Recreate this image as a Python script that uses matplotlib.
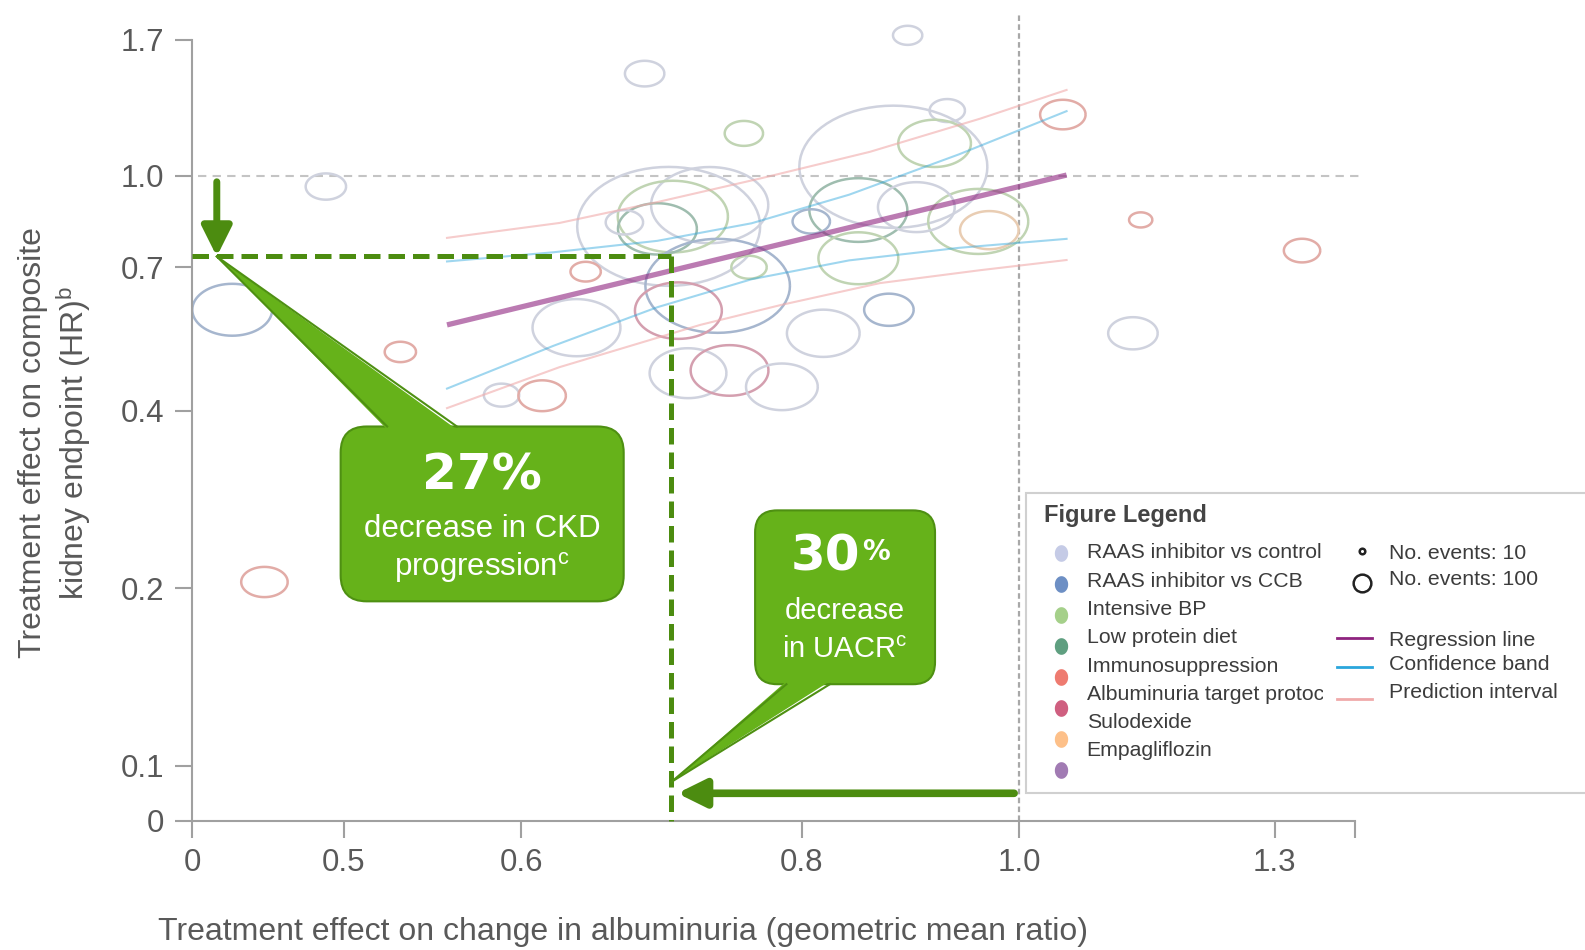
import numpy as np
import matplotlib
matplotlib.use('Agg')
import matplotlib.pyplot as plt
from matplotlib.path import Path
from matplotlib.patches import FancyBboxPatch, Polygon, Rectangle
from matplotlib.lines import Line2D
from matplotlib.colors import to_rgb
from matplotlib.ticker import NullLocator
from matplotlib.transforms import Bbox, TransformedBbox

plt.rcParams['font.family'] = ['Liberation Sans', 'DejaVu Sans']
plt.rcParams['mathtext.fontset'] = 'custom'
plt.rcParams['mathtext.rm'] = 'Liberation Sans'
plt.rcParams['mathtext.it'] = 'Liberation Sans:italic'
plt.rcParams['mathtext.bf'] = 'Liberation Sans:bold'

# treatment classes
categories = ['RAAS inhibitor vs control', 'RAAS inhibitor vs CCB', 'Intensive BP',
              'Low protein diet', 'Immunosuppression', 'Albuminuria target protocol',
              'Sulodexide', 'Empagliflozin']
category_colors = ['#c5cbe6', '#6d8fc4', '#a5d08a', '#5f9f80',
                   '#ee7b70', '#cf5f80', '#fdc089', '#a17bb3']

# one entry per trial: albuminuria GMR, hazard ratio, number of events, class
trial_gmr = [0.892, 0.681, 0.754, 0.929, 1.046, 0.879, 0.917, 0.491, 0.848, 0.808,
             0.959, 0.970, 0.848, 0.875, 0.818, 1.124, 1.133, 1.337, 0.698, 0.728,
             0.701, 0.690, 0.667, 0.734, 0.705, 0.758, 0.712, 0.743, 0.784, 0.635,
             0.641, 0.588, 0.613, 0.530, 0.446, 0.461, 0.900]
trial_hr = [1.73, 1.49, 1.18, 1.29, 1.27, 1.036, 1.135, 0.959, 0.875, 0.837,
            0.837, 0.809, 0.725, 0.593, 0.541, 0.541, 0.842, 0.747, 0.821, 0.892,
            0.853, 0.813, 0.834, 0.651, 0.591, 0.700, 0.463, 0.468, 0.439, 0.553,
            0.688, 0.425, 0.424, 0.503, 0.593, 0.205, 0.885]
trial_events = [275, 497, 471, 400, 661, 11300, 1690, 522, 3070, 447,
                3200, 1100, 2040, 784, 1690, 784, 173, 423, 10700, 4390,
                3880, 1990, 447, 6680, 2415, 400, 1886, 1936, 1646, 2471,
                294, 400, 721, 314, 2038, 691, 1886]
trial_cat = [0, 0, 2, 0, 4, 0, 2, 0, 3, 1,
             2, 6, 2, 1, 0, 0, 4, 4, 0, 0,
             2, 3, 0, 1, 5, 2, 0, 5, 0, 0,
             4, 0, 4, 4, 1, 4, 0]

# meta-regression line, confidence band and prediction interval
reg_gmr = [0.556, 1.05]
reg_hr = [0.559, 1.003]
ci_gmr = [0.556, 0.62, 0.69, 0.76, 0.84, 0.94, 1.05]
ci_hr_hi = [0.716, 0.742, 0.776, 0.831, 0.929, 1.087, 1.287]
ci_hr_lo = [0.436, 0.515, 0.599, 0.668, 0.719, 0.755, 0.782]
pi_gmr_hi = [0.556, 0.624, 0.692, 0.767, 0.858, 0.961, 1.05]
pi_hr_hi = [0.785, 0.832, 0.905, 0.990, 1.098, 1.250, 1.398]
pi_gmr_lo = [0.556, 0.624, 0.721, 0.783, 0.867, 0.961, 1.05]
pi_hr_lo = [0.404, 0.474, 0.559, 0.604, 0.658, 0.692, 0.720]

uacr_drop = 0.30
ckd_drop = 0.27

x_ticks = [0.428, 0.5, 0.6, 0.8, 1.0, 1.3, 1.411]
x_labels = ['0', '0.5', '0.6', '0.8', '1.0', '1.3', '']
y_ticks = [0.0808, 0.1, 0.2, 0.4, 0.7, 1.0, 1.7]
y_labels = ['0', '0.1', '0.2', '0.4', '0.7', '1.0', '1.7']

event_scale = 1.622          # marker area (pt^2) per event
grey_txt = '#595959'
axis_grey = '#a0a0a0'
green_dark = '#4c8c10'
box_green = '#66b21a'
edge_green = '#4e9012'

W, H = 15.85, 9.5
fig = plt.figure(figsize=(W, H), dpi=100)


def at(px, py):
    # layout grid of 1568 x 940, measured from the top-left corner
    return px / 1568, 1 - py / 940


def inches(px, py):
    x, y = at(px, py)
    return x * W, y * H


def fade(c):
    r, g, b = to_rgb(c)
    return tuple(0.55 * 0.85 * v + 0.45 for v in (r, g, b))


left, top = at(190, 39.4)
right, bottom = at(1340, 812)
ax = fig.add_axes([left, bottom, right - left, top - bottom])
ax.set_xscale('log')
ax.set_yscale('log')
ax.set_xlim(x_ticks[0], x_ticks[-1])
ax.set_ylim(y_ticks[0], y_ticks[-1])
ax.set_xticks(x_ticks, x_labels)
ax.set_yticks(y_ticks, y_labels)
ax.xaxis.set_minor_locator(NullLocator())
ax.yaxis.set_minor_locator(NullLocator())
ax.tick_params(which='major', direction='out', length=12, width=1.5, color=axis_grey,
               labelsize=22.5, labelcolor=grey_txt, pad=8)
for side in ['top', 'right']:
    ax.spines[side].set_visible(False)
for side in ['left', 'bottom']:
    ax.spines[side].set_color(axis_grey)
    ax.spines[side].set_linewidth(1.5)

# reference lines at no effect
ax.axhline(1.0, xmin=0.005, xmax=1.005, color='#c4c4c4', lw=1.5, ls=(0, (4, 3)),
           zorder=1, clip_on=False)
ax.axvline(1.0, ymin=0, ymax=1.032, color='#a8a8a8', lw=1.6, ls=(0, (2.5, 1.5)),
           zorder=1, clip_on=False)

# trial bubbles (ellipses, area ~ events)
t = np.linspace(0, 2 * np.pi, 73)
ellipse = Path(np.column_stack([np.cos(t), 0.65 * np.sin(t)]))
ax.scatter(trial_gmr, trial_hr, s=np.array(trial_events) * event_scale, marker=ellipse,
           facecolors='none', edgecolors=[fade(category_colors[c]) for c in trial_cat],
           linewidths=1.8, zorder=2, clip_on=False)

ax.plot(pi_gmr_hi, pi_hr_hi, color='#f0aaaa', alpha=0.6, lw=1.5, zorder=3)
ax.plot(pi_gmr_lo, pi_hr_lo, color='#f0aaaa', alpha=0.6, lw=1.5, zorder=3)
ax.plot(ci_gmr, ci_hr_hi, color='#2aa6dc', alpha=0.45, lw=1.5, zorder=3)
ax.plot(ci_gmr, ci_hr_lo, color='#2aa6dc', alpha=0.45, lw=1.5, zorder=3)
ax.plot(reg_gmr, reg_hr, color='#8e237f', alpha=0.6, lw=3.8, solid_capstyle='butt', zorder=4)

# read-off lines: 30% lower UACR -> 27% lower hazard
gx = 1 - uacr_drop
gy = 1 - ckd_drop
ax.plot([x_ticks[0], gx], [gy, gy], color=green_dark, lw=3.6, ls=(0, (3.3, 1.6)),
        zorder=5, clip_on=False)
ax.plot([gx, gx], [gy, y_ticks[0]], color=green_dark, lw=3.6, ls=(0, (3.3, 1.6)),
        zorder=5, clip_on=False)

arrow_x = 0.439
ax.annotate('', xy=(arrow_x, gy), xytext=(arrow_x, 0.977),
            arrowprops=dict(arrowstyle='-|>,head_length=0.9,head_width=0.45',
                            mutation_scale=20, lw=5, color=green_dark,
                            shrinkA=0, shrinkB=0), zorder=6)
arrow_y = 0.0899
ax.annotate('', xy=(gx * 1.006, arrow_y), xytext=(0.995, arrow_y),
            arrowprops=dict(arrowstyle='-|>,head_length=0.85,head_width=0.42',
                            mutation_scale=20, lw=5.5, color=green_dark,
                            shrinkA=0, shrinkB=0), zorder=6)

ax.set_xlabel('Treatment effect on change in albuminuria (geometric mean ratio)',
              fontsize=23, color=grey_txt)
ax.xaxis.set_label_coords((616 - 190) / 1150, (812 - 922) / 772.6)
ax.xaxis.label.set_va('center')
ax.set_ylabel('Treatment effect on composite\nkidney endpoint (HR)$^{\\mathrm{b}}$',
              fontsize=23, color=grey_txt, linespacing=1.2)
ax.yaxis.set_label_coords((55 - 190) / 1150, (812 - 438) / 772.6)
ax.yaxis.label.set_va('center')


def callout(x0, y0, x1, y1, base_a, base_b, edge_y, inset, apex, radius):
    bl = inches(x0, y1)
    tr = inches(x1, y0)
    fig.add_artist(FancyBboxPatch(bl, tr[0] - bl[0], tr[1] - bl[1],
                                  boxstyle=f'round,pad=0,rounding_size={radius}',
                                  transform=fig.dpi_scale_trans, fc=box_green,
                                  ec=edge_green, lw=1.5, zorder=8))
    tip = fig.dpi_scale_trans.inverted().transform(ax.transData.transform(apex))
    pa = inches(base_a, edge_y + inset)
    pb = inches(base_b, edge_y + inset)
    fig.add_artist(Polygon([pa, pb, tip], closed=True, transform=fig.dpi_scale_trans,
                           fc=box_green, ec='none', zorder=9))
    for bx in (base_a, base_b):
        p = inches(bx, edge_y)
        fig.add_artist(Line2D([p[0], tip[0]], [p[1], tip[1]], transform=fig.dpi_scale_trans,
                              color=edge_green, lw=1.5, zorder=9))


callout(337, 422, 617, 595, 383, 452, 422, 3, (arrow_x, gy), 0.26)
callout(747, 505, 925, 677, 778, 821, 677, -3, (gx, 0.094), 0.22)

fig.text(*at(477, 470), f'{ckd_drop:.0%}', family='DejaVu Sans', weight='bold',
         fontsize=36, color='white', ha='center', va='center', zorder=10)
fig.text(*at(477, 523), 'decrease in CKD', fontsize=22.5, color='white',
         ha='center', va='center', zorder=10)
fig.text(*at(477, 562), 'progression$^{\\mathrm{c}}$', fontsize=22.5, color='white',
         ha='center', va='center', zorder=10)
fig.text(*at(851, 551), f'{uacr_drop * 100:.0f}', family='DejaVu Sans', weight='bold',
         fontsize=36, color='white', ha='right', va='center', zorder=10)
fig.text(*at(853, 546), '%', family='DejaVu Sans', weight='bold',
         fontsize=20, color='white', ha='left', va='center', zorder=10)
fig.text(*at(836, 605), 'decrease', fontsize=21, color='white',
         ha='center', va='center', zorder=10)
fig.text(*at(836, 643), 'in UACR$^{\\mathrm{c}}$', fontsize=21, color='white',
         ha='center', va='center', zorder=10)

# legend panel
lx0, ly0 = at(1015, 785)
lx1, ly1 = at(1600, 488)
fig.add_artist(Rectangle((lx0, ly0), lx1 - lx0, ly1 - ly0, transform=fig.transFigure,
                         fc='white', ec='#d0d0d0', lw=1.5, zorder=11))
leg_txt = '#3c3c3c'
fig.text(*at(1033, 510), 'Figure Legend', fontsize=17, weight='bold', color='#444444',
         ha='left', va='center', zorder=12)

dot = Path(np.column_stack([0.8 * np.cos(t), np.sin(t)]))
name_clip = TransformedBbox(Bbox.from_extents(0, 0, at(1309, 0)[0], 1), fig.transFigure)
for i, (name, col) in enumerate(zip(categories, category_colors)):
    dx, dy = at(1050, 547 + 30.7 * i)
    fig.add_artist(Line2D([dx], [dy], transform=fig.transFigure, marker=dot, markersize=12,
                          mfc=col, mec='none', ls='none', zorder=12))
    txt = fig.text(*at(1075, 547 + 28 * i), name, fontsize=15.3, color=leg_txt,
                   ha='left', va='center', zorder=12)
    txt.set_clip_box(name_clip)
    txt.set_clip_on(True)

for n, yy, ty in [(10, 545, 548), (100, 577, 573)]:
    mx, my = at(1347, yy)
    fig.add_artist(Line2D([mx], [my], transform=fig.transFigure, marker='o',
                          markersize=np.sqrt(n * event_scale), mfc='none', mec='#222222',
                          mew=1.8, ls='none', zorder=12))
    fig.text(*at(1374, ty), f'No. events: {n}', fontsize=15.3, color=leg_txt,
             ha='left', va='center', zorder=12)

for label, col, yy, ty in [('Regression line', '#8e237f', 631, 634),
                           ('Confidence band', '#2aa6dc', 660, 658),
                           ('Prediction interval', '#f0aaaa', 692, 685)]:
    xa, ya = at(1323, yy)
    xb, _ = at(1357, yy)
    fig.add_artist(Line2D([xa, xb], [ya, ya], transform=fig.transFigure, color=col,
                          lw=2, zorder=12))
    fig.text(*at(1374, ty), label, fontsize=15.3, color=leg_txt,
             ha='left', va='center', zorder=12)

fig.savefig('out.png', dpi=100)
